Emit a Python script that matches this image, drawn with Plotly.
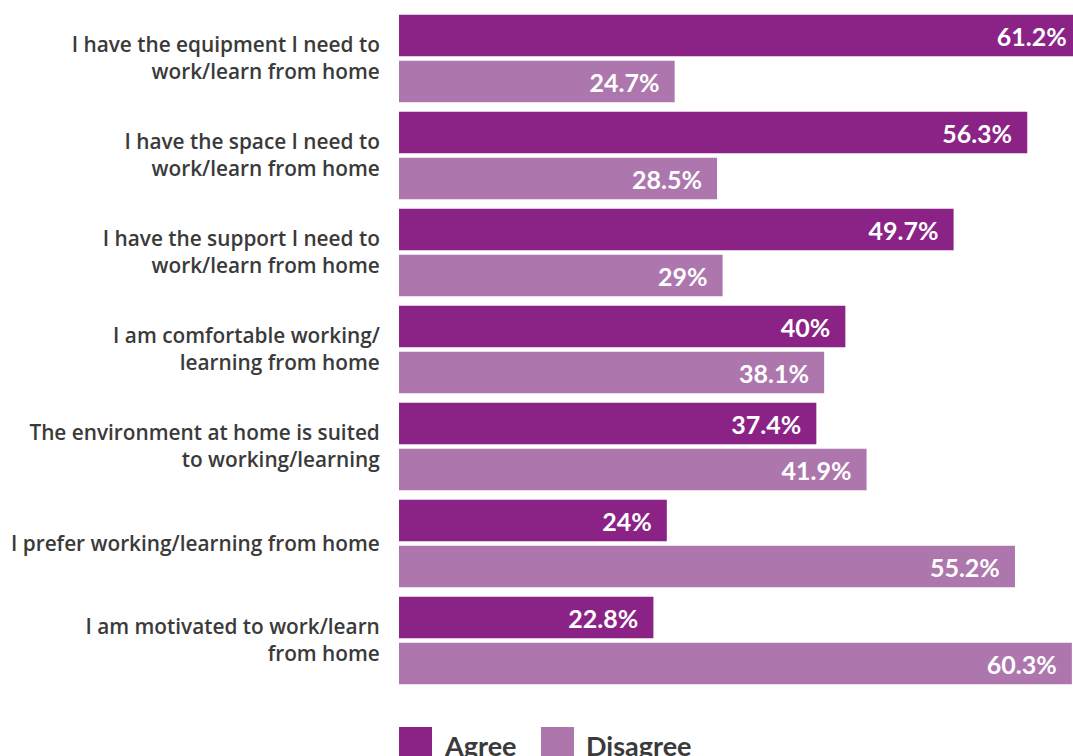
import plotly.graph_objects as go

# Survey statements (top to bottom) and responses in percent
statements = [
    "I have the equipment I need to<br>work/learn from home",
    "I have the space I need to<br>work/learn from home",
    "I have the support I need to<br>work/learn from home",
    "I am comfortable working/<br>learning from home",
    "The environment at home is suited<br>to working/learning",
    "I prefer working/learning from home",
    "I am motivated to work/learn<br>from home",
]
agree = [61.2, 56.3, 49.7, 40, 37.4, 24, 22.8]
disagree = [24.7, 28.5, 29, 38.1, 41.9, 55.2, 60.3]

series_names = ["Agree", "Disagree"]
series_colors = ["#8B2387", "#AD77AE"]

W, H = 1073, 756
M_L, M_R, M_T, M_B = 399, 0, 10, 67
LABEL_FONT = "'Open Sans', Lato, sans-serif"
VALUE_FONT = "Lato, 'Open Sans', sans-serif"
TEXT_GREY = "#3a3a3a"
PAD = "\u00a0\u00a0"

fig = go.Figure()
for name, vals, color in zip(series_names, [agree, disagree], series_colors):
    fig.add_trace(go.Bar(
        name=name,
        y=statements,
        x=vals,
        orientation="h",
        marker=dict(color=color, line=dict(width=0)),
        texttemplate="%{x}%" + PAD,
        textposition="inside",
        insidetextanchor="end",
        textfont=dict(family=VALUE_FONT, size=25, color="white", weight="bold"),
        constraintext="none",
        hoverinfo="skip",
        showlegend=False,
    ))

# Legend: colour swatches with bold labels beneath the bars
plot_h = H - M_T - M_B
def py(px_from_top):
    # convert a pixel row (from top of figure) to paper y
    return (H - M_B - px_from_top) / plot_h

def pxx(px_from_left):
    return (px_from_left - M_L) / (W - M_L - M_R)

legend_items = [(399, 442), (541, 584)]
for (sx, tx), name, color in zip(legend_items, series_names, series_colors):
    fig.add_shape(type="rect", xref="paper", yref="paper",
                  x0=pxx(sx), x1=pxx(sx + 33), y0=py(727), y1=py(761),
                  fillcolor=color, line=dict(width=0), layer="above")
    fig.add_annotation(text=f"<b>{name}</b>", xref="paper", yref="paper",
                       x=pxx(tx), y=py(745), xanchor="left", yanchor="middle",
                       showarrow=False,
                       font=dict(family=VALUE_FONT, size=27, color=TEXT_GREY))

fig.update_layout(
    width=W, height=H,
    margin=dict(l=M_L, r=M_R, t=M_T, b=M_B, pad=0),
    barmode="group",
    bargap=0.0515,
    bargroupgap=0.0935,
    plot_bgcolor="white",
    paper_bgcolor="white",
    font=dict(family=LABEL_FONT, color=TEXT_GREY),
    xaxis=dict(range=[0, 60.4], visible=False, fixedrange=True, automargin=False),
    yaxis=dict(
        autorange="reversed", automargin=False,
        showgrid=False, zeroline=False, showline=False,
        ticks="outside", ticklen=0, ticklabelstandoff=14,
        tickfont=dict(family=LABEL_FONT, size=20.8, color=TEXT_GREY, weight=600),
        fixedrange=True,
    ),
)

fig.write_html("out.html", config={"displayModeBar": False})
